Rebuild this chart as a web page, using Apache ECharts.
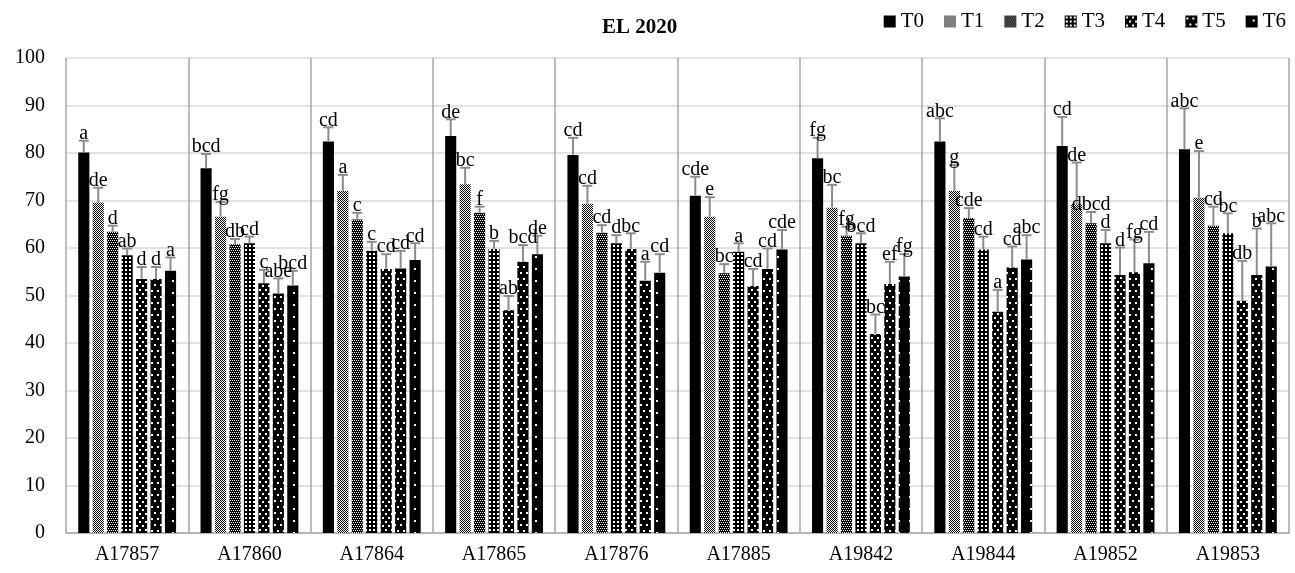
<!DOCTYPE html>
<html>
<head>
<meta charset="utf-8">
<title>EL 2020</title>
<script src="https://cdn.jsdelivr.net/npm/echarts@6/dist/echarts.min.js"></script>
<style>
  html, body { margin: 0; padding: 0; background: #fff; }
  #chart { width: 1295px; height: 573px; }
</style>
</head>
<body>
<div id="chart"></div>
<script>
// Genotypes on the category axis
const genotypes = ['A17857', 'A17860', 'A17864', 'A17865', 'A17876', 'A17885', 'A19842', 'A19844', 'A19852', 'A19853'];
const treatments = ['T0', 'T1', 'T2', 'T3', 'T4', 'T5', 'T6'];
const yTicks = [0, 10, 20, 30, 40, 50, 60, 70, 80, 90, 100];

// Mean values per treatment
const T0 = [80.1, 76.8, 82.4, 83.6, 79.6, 71.0, 78.9, 82.4, 81.5, 80.8];
const T1 = [69.6, 66.6, 72.0, 73.4, 69.3, 66.6, 68.5, 72.0, 69.2, 70.6];
const T2 = [63.4, 60.8, 66.0, 67.4, 63.2, 54.7, 62.6, 66.3, 65.2, 64.7];
const T3 = [58.5, 61.0, 59.4, 59.8, 61.0, 59.2, 61.0, 59.7, 61.0, 63.1];
const T4 = [53.5, 52.6, 55.6, 46.9, 59.8, 52.0, 41.9, 46.6, 54.3, 48.9];
const T5 = [53.5, 50.4, 55.7, 57.1, 53.1, 55.6, 52.4, 55.9, 54.9, 54.3];
const T6 = [55.2, 52.1, 57.5, 58.7, 54.8, 59.7, 54.0, 57.6, 56.8, 56.1];

// Standard deviations (upper error bars)
const T0_sd = [2.5, 3.0, 3.0, 3.5, 3.6, 4.0, 4.3, 4.9, 6.1, 8.6];
const T1_sd = [3.1, 3.1, 3.4, 3.5, 3.8, 4.1, 4.8, 5.5, 8.8, 9.8];
const T2_sd = [1.3, 1.1, 1.4, 1.3, 1.6, 1.9, 1.9, 2.1, 2.4, 4.0];
const T3_sd = [1.4, 1.4, 1.9, 1.7, 1.7, 1.8, 2.1, 2.7, 2.8, 4.2];
const T4_sd = [2.5, 2.8, 3.1, 3.0, 3.3, 3.6, 4.1, 4.6, 5.8, 8.4];
const T5_sd = [2.5, 3.2, 3.7, 3.5, 4.0, 4.3, 4.7, 4.4, 6.9, 9.8];
const T6_sd = [2.8, 3.1, 3.5, 3.9, 3.9, 4.1, 4.7, 5.1, 6.6, 9.1];

// Significance letters
const T0_lbl = ['a', 'bcd', 'cd', 'de', 'cd', 'cde', 'fg', 'abc', 'cd', 'abc'];
const T1_lbl = ['de', 'fg', 'a', 'bc', 'cd', 'e', 'bc', 'g', 'de', 'e'];
const T2_lbl = ['d', 'db', 'c', 'f', 'cd', 'bc', 'fg', 'cde', 'dbcd', 'cd'];
const T3_lbl = ['ab', 'cd', 'c', 'b', 'd', 'a', 'bcd', 'cd', 'd', 'bc'];
const T4_lbl = ['d', 'c', 'cd', 'ab', 'bc', 'cd', 'bc', 'a', 'd', 'db'];
const T5_lbl = ['d', 'abe', 'cd', 'bcd', 'a', 'cd', 'ef', 'cd', 'fg', 'b'];
const T6_lbl = ['a', 'bcd', 'cd', 'de', 'cd', 'cde', 'fg', 'abc', 'cd', 'abc'];

const means = [T0, T1, T2, T3, T4, T5, T6];
const sds = [T0_sd, T1_sd, T2_sd, T3_sd, T4_sd, T5_sd, T6_sd];
const letters = [T0_lbl, T1_lbl, T2_lbl, T3_lbl, T4_lbl, T5_lbl, T6_lbl];

const FONT = '"Liberation Serif", "Times New Roman", serif';
const BAR_GAP = 0.3;
const CAT_GAP = 0.2;

// Monochrome fill patterns drawn on small tiles
function tile(w, h, bg, fg, cells) {
  const c = document.createElement('canvas');
  c.width = w; c.height = h;
  const ctx = c.getContext('2d');
  ctx.fillStyle = bg; ctx.fillRect(0, 0, w, h);
  ctx.fillStyle = fg;
  cells.forEach(p => ctx.fillRect(p[0], p[1], p[2] || 1, p[3] || 1));
  return { image: c, repeat: 'repeat' };
}
const fills = [
  '#000000',
  tile(2, 2, '#ffffff', '#000000', [[0, 0], [1, 1]]),
  tile(4, 4, '#000000', '#ffffff', [[0, 0], [2, 0], [1, 2], [3, 2]]),
  tile(4, 4, '#000000', '#ffffff', [[1, 1, 2, 2]]),
  tile(6, 8, '#000000', '#ffffff', [[1, 1, 2, 2], [4, 5, 2, 2]]),
  tile(6, 12, '#000000', '#ffffff', [[1, 2, 2, 2], [4, 8, 2, 2]]),
  tile(11, 12, '#000000', '#ffffff', [[7, 4, 2, 2]])
];

const barSeries = treatments.map((name, i) => ({
  name: name,
  type: 'bar',
  data: means[i],
  barGap: (BAR_GAP * 100) + '%',
  barCategoryGap: (CAT_GAP * 100) + '%',
  itemStyle: { color: fills[i] },
  emphasis: { disabled: true },
  z: 2
}));

// Error bar items: [category, treatment, mean, mean + sd]
const errData = [];
const errText = [];
means.forEach((arr, s) => {
  arr.forEach((v, c) => {
    errData.push([c, s, v, v + sds[s][c]]);
    errText.push(letters[s][c]);
  });
});

function renderErr(params, api) {
  const cat = api.value(0);
  const s = api.value(1);
  const band = api.size([1, 0])[0];
  const n = treatments.length;
  const bw = band * (1 - CAT_GAP) / (n + (n - 1) * BAR_GAP);
  const slot = bw * (1 + BAR_GAP);
  const cx = api.coord([cat, 0])[0] + (s - (n - 1) / 2) * slot;
  const yv = api.coord([cat, api.value(2)])[1];
  const yt = api.coord([cat, api.value(3)])[1];
  const half = 5;
  const stroke = { stroke: '#8c8c8c', lineWidth: 2 };
  return {
    type: 'group',
    children: [
      { type: 'line', shape: { x1: cx, y1: yv, x2: cx, y2: yt }, style: stroke },
      { type: 'line', shape: { x1: cx - half, y1: yt, x2: cx + half, y2: yt }, style: stroke },
      {
        type: 'text',
        x: cx, y: yt + 3,
        style: {
          text: errText[params.dataIndex],
          align: 'center', verticalAlign: 'bottom',
          font: '20px ' + FONT, fill: '#000'
        },
        z2: 10
      }
    ]
  };
}

const chart = echarts.init(document.getElementById('chart'), null, { renderer: 'canvas' });
chart.setOption({
  animation: false,
  backgroundColor: '#ffffff',
  title: {
    text: 'EL 2020',
    left: 597, top: 12,
    textStyle: { fontFamily: FONT, fontWeight: 'bold', fontSize: 21, color: '#000' }
  },
  legend: {
    data: treatments,
    right: 4, top: 6,
    icon: 'rect', itemWidth: 12, itemHeight: 12, itemGap: 20,
    textStyle: { fontFamily: FONT, fontSize: 21, color: '#000' },
    selectedMode: false
  },
  grid: { left: 66, right: 6, top: 58, bottom: 40, containLabel: false },
  xAxis: {
    type: 'category',
    data: genotypes,
    axisLine: { show: true, lineStyle: { color: '#a6a6a6', width: 1.5 } },
    axisTick: { show: false },
    splitLine: { show: true, lineStyle: { color: '#a6a6a6', width: 1.5 } },
    axisLabel: { fontFamily: FONT, fontSize: 20, color: '#000', margin: 12 }
  },
  yAxis: {
    type: 'value',
    min: yTicks[0], max: yTicks[yTicks.length - 1], interval: yTicks[1] - yTicks[0],
    axisLine: { show: false },
    axisTick: { show: false },
    splitLine: { lineStyle: { color: '#d9d9d9', width: 1.5 } },
    axisLabel: { fontFamily: FONT, fontSize: 20, color: '#000', margin: 21 }
  },
  series: barSeries.concat([{
    type: 'custom',
    name: 'err',
    renderItem: renderErr,
    data: errData,
    encode: { x: 0, y: 3 },
    z: 5,
    silent: true
  }])
});
</script>
</body>
</html>
